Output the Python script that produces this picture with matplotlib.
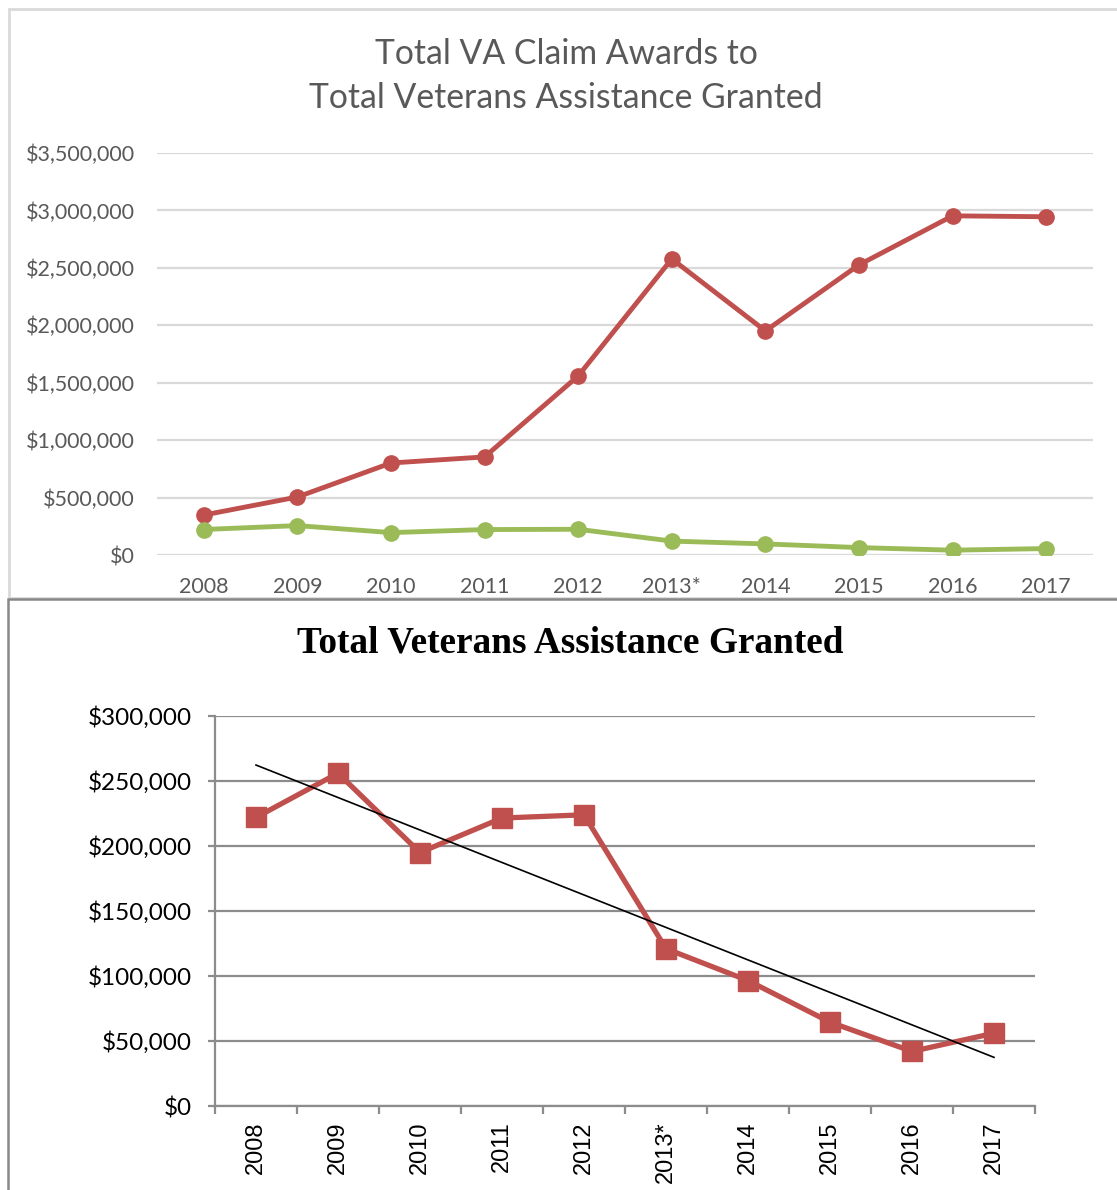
import matplotlib
matplotlib.use("Agg")
import matplotlib.pyplot as plt
import numpy as np
from matplotlib.patches import Rectangle
from matplotlib.ticker import FuncFormatter, FixedLocator

W, H = 1117, 1190

years = ["2008", "2009", "2010", "2011", "2012", "2013*", "2014", "2015", "2016", "2017"]
claim_awards = [348000, 505000, 801000, 854000, 1559000, 2578000, 1951000, 2526000, 2953000, 2945000]
assistance = [222000, 256000, 195000, 221500, 224000, 121000, 96500, 64500, 42000, 56000]

RED = "#c0504d"
GREEN = "#9bbb59"
GRAY_TXT = "#595959"


def px_axes(fig, left, top, right, bottom):
    return fig.add_axes([left / W, 1 - bottom / H, (right - left) / W, (bottom - top) / H])


def money(v, pos):
    return f"${v:,.0f}"


fig = plt.figure(figsize=(W / 100, H / 100), dpi=100)

# panel borders
fig.patches.append(Rectangle((8.5 / W, 1 - 598 / H), (W - 8) / W, (598 - 8.5) / H,
                             transform=fig.transFigure, fill=False, edgecolor="#d9d9d9", linewidth=2))
fig.patches.append(Rectangle((7.5 / W, -0.01), (W - 7) / W, 1 - 599 / H + 0.01,
                             transform=fig.transFigure, fill=False, edgecolor="#888888", linewidth=1.8))

x = np.arange(len(years))

# ---- top chart ----
ax1 = px_axes(fig, 157, 153, 1093, 555)
ax1.plot(x, claim_awards, color=RED, linewidth=3.5, marker="o", markersize=11, zorder=3)
ax1.plot(x, assistance, color=GREEN, linewidth=3.5, marker="o", markersize=11, zorder=3)
ax1.set_xlim(-0.5, 9.5)
ax1.set_ylim(0, 3500000)
ax1.set_yticks(np.arange(0, 3500001, 500000))
ax1.yaxis.set_major_formatter(FuncFormatter(money))
ax1.set_xticks(x)
ax1.set_xticklabels(years)
ax1.grid(axis="y", color="#d9d9d9", linewidth=1.6)
ax1.set_axisbelow(True)
for s in ax1.spines.values():
    s.set_visible(False)
ax1.tick_params(length=0, labelsize=15.5, labelcolor=GRAY_TXT)
ax1.tick_params(axis="x", pad=16)
ax1.tick_params(axis="y", pad=16)
for lab in ax1.get_xticklabels() + ax1.get_yticklabels():
    lab.set_family("Lato")
fig.text(566 / W, 1 - 76 / H, "Total VA Claim Awards to\nTotal Veterans Assistance Granted",
         ha="center", va="center", fontsize=24.3, color=GRAY_TXT, family="Lato", linespacing=1.45)

# ---- bottom chart ----
ax2 = px_axes(fig, 215, 716, 1035, 1106)
ax2.plot(x, assistance, color=RED, linewidth=3.8, marker="s", markersize=14, zorder=3)
coef = np.polyfit(x, assistance, 1)
ax2.plot(x, np.polyval(coef, x), color="black", linewidth=1.2, zorder=4)
ax2.set_xlim(-0.5, 9.5)
ax2.set_ylim(0, 300000)
ax2.set_yticks(np.arange(0, 300001, 50000))
ax2.yaxis.set_major_formatter(FuncFormatter(money))
ax2.set_xticks(x)
ax2.set_xticklabels(years, rotation=90)
ax2.xaxis.set_minor_locator(FixedLocator(np.arange(-0.5, 10, 1)))
ax2.grid(axis="y", color="#8c8c8c", linewidth=1.6)
ax2.set_axisbelow(True)
ax2.spines["top"].set_visible(False)
ax2.spines["right"].set_visible(False)
ax2.spines["left"].set_color("#8c8c8c")
ax2.spines["bottom"].set_color("#8c8c8c")
ax2.spines["left"].set_linewidth(1.6)
ax2.spines["bottom"].set_linewidth(1.6)
ax2.tick_params(axis="x", which="major", length=0, labelsize=17, pad=11)
ax2.tick_params(axis="x", which="minor", length=6, width=1.6, color="#8c8c8c")
ax2.tick_params(axis="y", length=5, width=1.6, color="#8c8c8c", labelsize=17.5, pad=12)
for lab in ax2.get_xticklabels():
    lab.set_family("Liberation Sans")
for lab in ax2.get_yticklabels():
    lab.set_family("Lato")
fig.text(570 / W, 1 - 643 / H, "Total Veterans Assistance Granted", ha="center", va="center",
         fontsize=26.8, fontweight="bold", family="Liberation Serif")

fig.savefig("out.png", dpi=100)
